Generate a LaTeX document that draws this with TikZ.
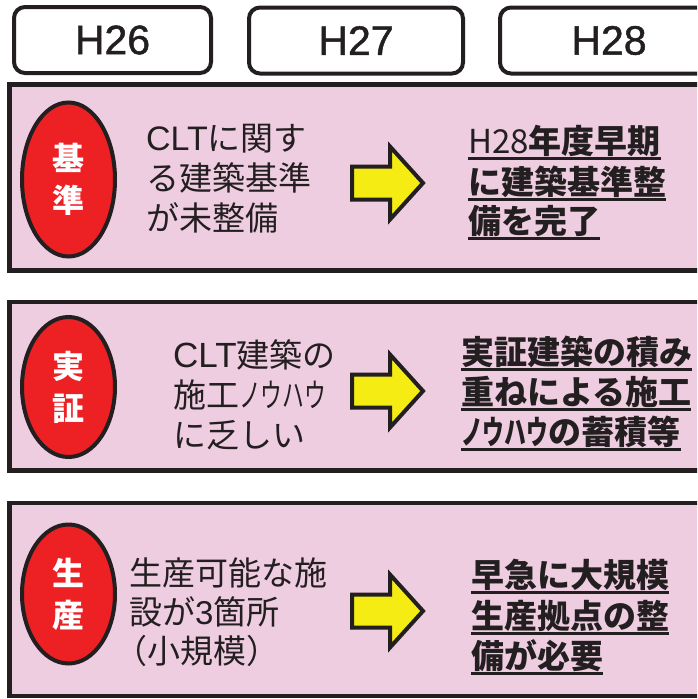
\documentclass[tikz,border=0pt]{standalone}
\usepackage{fontspec}
\usepackage{graphicx}
\setmainfont{Liberation Sans}
\newfontfamily\jp{Noto Sans CJK JP}
\newfontfamily\lat{Liberation Sans}
\newfontfamily\hdrfont[FakeBold=1.2]{Liberation Sans}
\newcommand{\nkata}[1]{\scalebox{0.66}[1]{#1}}
\usetikzlibrary{shapes.geometric}
\definecolor{ink}{RGB}{35,31,32}
\definecolor{pinkbg}{RGB}{239,205,225}
\definecolor{redov}{RGB}{237,32,36}
\definecolor{yel}{RGB}{245,236,20}
\tikzset{
  hdr/.style={draw=ink, line width=4pt, rounded corners=11pt, fill=white, inner sep=0pt,
    minimum height=66pt, font=\hdrfont\fontsize{41}{41}\selectfont, text=ink},
  panel/.style={draw=ink, line width=4.5pt, fill=pinkbg},
  ovalbox/.style={ellipse, draw=ink, line width=4pt, fill=redov, inner sep=0pt,
    minimum width=93pt, text=white, align=center,
    font=\jp\bfseries\fontsize{32}{42}\selectfont},
  lefttxt/.style={anchor=base west, inner sep=0pt, text=ink, font=\jp\fontsize{33}{33}\selectfont},
  righttxt/.style={anchor=base west, inner sep=0pt, text=ink, font=\jp\bfseries\fontsize{33}{33}\selectfont},
  uline/.style={draw=ink, line width=2.6pt},
  blockarrow/.style={draw=ink, line width=4pt, fill=yel, miter limit=10},
}
\begin{document}
\begin{tikzpicture}[x=1pt,y=-1pt]
\useasboundingbox (0,0) rectangle (697,699);
\clip (0,0) rectangle (697,699);
\fill[white] (0,0) rectangle (697,699);

% header boxes
\node[hdr, minimum width=197pt] (h26) at (112.5,40) {H26};
\node[hdr, minimum width=214pt] (h27) at (356,40.5) {H27};
\node[hdr, minimum width=218pt] (h28) at (609,40.5) {H28};

% panels
\draw[panel] (9.5,84.5) rectangle (720,270.5);
\draw[panel] (9.5,302) rectangle (720,470.5);
\draw[panel] (9.5,503) rectangle (720,696);

% ovals
\node[ovalbox, minimum height=154pt] (o1) at (68.5,179.5) {基\\準};
\node[ovalbox, minimum height=140pt] (o2) at (68.5,387) {実\\証};
\node[ovalbox, minimum height=139pt] (o3) at (68.5,594) {生\\産};

% left texts
\node[lefttxt] (l1a) at (146,150.5) {{\lat\fontsize{34}{34}\selectfont CLT}に関す};
\node[lefttxt] (l1b) at (146,190.5) {る建築基準};
\node[lefttxt] (l1c) at (146,230.5) {が未整備};
\node[lefttxt] (l2a) at (173,367.5) {{\lat\fontsize{35}{35}\selectfont CLT}建築の};
\node[lefttxt] (l2b) at (173,407.5) {施工\nkata{ノウハウ}};
\node[lefttxt] (l2c) at (173,447.5) {に乏しい};
\node[lefttxt] (l3a) at (129,585.5) {生産可能な施};
\node[lefttxt] (l3b) at (129,624.5) {設が{\lat 3}箇所};
\node[lefttxt] (l3c) at (114,663.5) {（小規模）};

% block arrows
\foreach \cy in {183,391,611}{
  \draw[blockarrow, shift={(0,\cy)}] (352,-16.5) -- (390,-16.5) -- (390,-36.5) -- (423,0)
    -- (390,36.5) -- (390,16.5) -- (352,16.5) -- cycle;
}

% right texts
\node[righttxt] (r1a) at (468,153) {{\mdseries H28}年度早期};
\node[righttxt] (r1b) at (468,194) {に建築基準整};
\node[righttxt] (r1c) at (468,233) {備を完了};
\node[righttxt] (r2a) at (461,364) {実証建築の積み};
\node[righttxt] (r2b) at (461,404) {重ねによる施工};
\node[righttxt] (r2c) at (461,444) {\nkata{ノウハウ}の蓄積等};
\node[righttxt] (r3a) at (471,587) {早急に大規模};
\node[righttxt] (r3b) at (471,628) {生産拠点の整};
\node[righttxt] (r3c) at (471,668) {備が必要};

\foreach \n in {r1a,r1b,r1c,r2a,r2b,r2c,r3a,r3b,r3c}{
  \draw[uline] ([yshift=-5.5pt]\n.base west) -- ([yshift=-5.5pt]\n.base east);
}
\end{tikzpicture}
\end{document}
